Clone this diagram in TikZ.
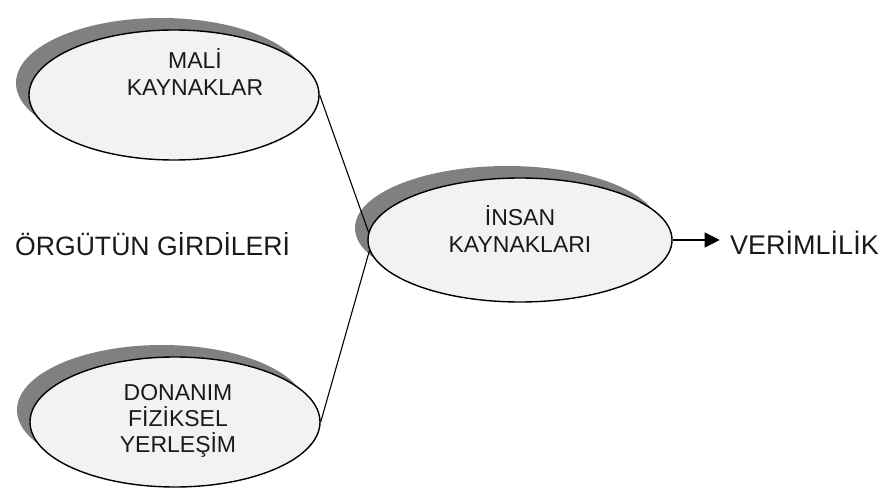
\documentclass[tikz,border=0pt]{standalone}
\usepackage{fontspec}
\setmainfont{Liberation Sans}
\usetikzlibrary{shapes.geometric,shadows,arrows.meta}
\definecolor{inkc}{HTML}{1A1A1A}
\definecolor{ovalfill}{HTML}{F2F2F2}
\definecolor{shadowc}{HTML}{808080}
\begin{document}
\begin{tikzpicture}[x=1pt,y=-1pt,
  oval/.style={ellipse, draw=black, line width=1.4pt, fill=ovalfill, inner sep=0pt,
    drop shadow={shadow xshift=-13pt, shadow yshift=12pt, fill=shadowc, opacity=1}},
  lbl/.style={text=inkc, align=center, inner sep=0pt, font=\fontsize{23}{27}\selectfont},
  outer/.style={text=inkc, anchor=base west, inner sep=0pt},
  link/.style={draw=black, line width=1.1pt},
]
\useasboundingbox (0,0) rectangle (888,502);

% the three resource ovals
\node[oval, minimum width=290pt, minimum height=130pt] (mali) at (174,95) {};
\node[oval, minimum width=304pt, minimum height=124pt] (insan) at (520,240) {};
\node[oval, minimum width=290pt, minimum height=130pt] (donanim) at (175,422) {};

% their captions
\node[lbl] (maliT) at (195,72) {MALİ\\KAYNAKLAR};
\node[lbl] (insanT) at (520,229) {İNSAN\\KAYNAKLARI};
\node[lbl, font=\fontsize{23}{26}\selectfont] (donanimT) at (178,421) {DONANIM\\FİZİKSEL\\YERLEŞİM};

% side labels
\node[outer, font=\fontsize{26.6}{32}\selectfont] (girdi) at (15,256) {ÖRGÜTÜN GİRDİLERİ};
\node[outer, font=\fontsize{27}{32}\selectfont] (verim) at (730,255) {VERİMLİLİK};

% connectors
\draw[link] (mali.east) -- (insan.177);
\draw[link] (donanim.east) -- (insan.184);
\path (insan.east) ++(47,0) coordinate (tip);
\draw[link, -{Triangle[length=15pt,width=15pt]}] (insan.east) -- (tip);
\end{tikzpicture}
\end{document}
